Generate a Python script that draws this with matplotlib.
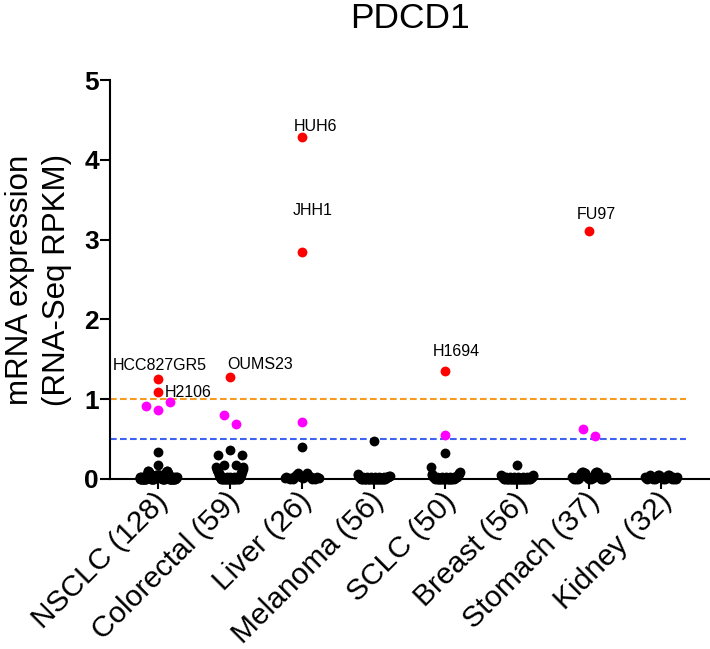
import numpy as np
import matplotlib
matplotlib.use("Agg")
import matplotlib.pyplot as plt
from matplotlib.transforms import ScaledTranslation

plt.rcParams['font.family'] = ['Liberation Sans', 'DejaVu Sans']

# ---------------- data ----------------
title = "PDCD1"
ylabel = "mRNA expression\n(RNA-Seq RPKM)"
categories = ["NSCLC (128)", "Colorectal (59)", "Liver (26)", "Melanoma (56)",
              "SCLC (50)", "Breast (56)", "Stomach (37)", "Kidney (32)"]
yticks = [0, 1, 2, 3, 4, 5]

red_values = [[1.25, 1.09], [1.28], [4.29, 2.85], [], [1.35], [], [3.11], []]
red_labels = [["HCC827GR5", "H2106"], ["OUMS23"], ["HUH6", "JHH1"], [],
              ["H1694"], [], ["FU97"], []]
magenta_values = [[0.92, 0.86, 0.96], [0.80, 0.69], [0.71], [], [0.55], [],
                  [0.63, 0.54], []]
black_upper = [[0.34, 0.17], [0.30, 0.36, 0.30, 0.18, 0.18], [0.40], [0.47],
               [0.32], [0.17], [], []]

# low-expression cell lines, listed left-to-right as they appear in each swarm
black_band = [
    [0.02, 0.01, 0.00, 0.01, 0.00, 0.02, 0.00, 0.01, 0.00, 0.00, 0.01,
     0.00, 0.02, 0.00, 0.01, 0.00, 0.00, 0.01, 0.00, 0.02, 0.00, 0.01,
     0.00, 0.01, 0.03, 0.05, 0.07, 0.09, 0.10, 0.10, 0.09, 0.07, 0.05,
     0.03, 0.02, 0.01, 0.00, 0.01, 0.00, 0.02, 0.01, 0.00, 0.01, 0.00,
     0.02, 0.00, 0.01, 0.00, 0.01, 0.02, 0.03, 0.03, 0.04, 0.04, 0.05,
     0.04, 0.05, 0.04, 0.05, 0.04, 0.05, 0.04, 0.05, 0.04, 0.05, 0.04,
     0.05, 0.04, 0.04, 0.03, 0.03, 0.02, 0.01, 0.00, 0.01, 0.00, 0.02,
     0.00, 0.01, 0.00, 0.02, 0.01, 0.00, 0.01, 0.03, 0.05, 0.07, 0.09,
     0.10, 0.10, 0.09, 0.07, 0.05, 0.03, 0.02, 0.01, 0.00, 0.01, 0.00,
     0.02, 0.00, 0.01, 0.00, 0.00, 0.01, 0.00, 0.02, 0.00, 0.01, 0.00,
     0.00, 0.01, 0.00, 0.02, 0.00, 0.01, 0.00, 0.01, 0.02, 0.01, 0.02],
    [0.15, 0.13, 0.11, 0.09, 0.07, 0.05, 0.03, 0.02, 0.01, 0.00,
     0.01, 0.00, 0.02, 0.00, 0.01, 0.00, 0.00, 0.01, 0.00, 0.02,
     0.00, 0.01, 0.00, 0.01, 0.00, 0.02, 0.00, 0.01, 0.00, 0.00,
     0.01, 0.00, 0.02, 0.00, 0.01, 0.00, 0.01, 0.00, 0.02, 0.01, 0.00, 0.01, 0.00,
     0.02, 0.03, 0.05, 0.07, 0.09, 0.11, 0.13, 0.15],
    [0.01, 0.02, 0.01, 0.00, 0.01, 0.00, 0.02, 0.05, 0.07, 0.04, 0.02,
     0.01, 0.03, 0.05, 0.07, 0.04, 0.02, 0.00, 0.01, 0.00, 0.02, 0.01],
    [0.06, 0.05, 0.04, 0.03, 0.02, 0.01, 0.00, 0.01, 0.00, 0.02,
     0.00, 0.01, 0.00, 0.00, 0.01, 0.00, 0.02, 0.00, 0.01, 0.00,
     0.00, 0.01, 0.00, 0.02, 0.00, 0.01, 0.00, 0.00, 0.01, 0.00,
     0.02, 0.00, 0.01, 0.00, 0.00, 0.01, 0.00, 0.02, 0.00, 0.01,
     0.00, 0.00, 0.01, 0.00, 0.02, 0.00, 0.01, 0.00, 0.01, 0.02,
     0.02, 0.03, 0.03, 0.04, 0.04],
    [0.15, 0.06, 0.05, 0.04, 0.03, 0.02, 0.01, 0.00, 0.01, 0.00,
     0.02, 0.00, 0.01, 0.00, 0.00, 0.01, 0.00, 0.02, 0.00, 0.01,
     0.00, 0.00, 0.01, 0.00, 0.02, 0.00, 0.01, 0.00, 0.00, 0.01,
     0.00, 0.02, 0.00, 0.01, 0.00, 0.01, 0.00, 0.02, 0.01, 0.02,
     0.03, 0.03, 0.04, 0.05, 0.06, 0.07, 0.09],
    [0.05, 0.04, 0.03, 0.02, 0.01, 0.00, 0.01, 0.00, 0.02, 0.00,
     0.01, 0.00, 0.00, 0.01, 0.00, 0.02, 0.00, 0.01, 0.00, 0.00,
     0.01, 0.00, 0.02, 0.00, 0.01, 0.00, 0.00, 0.01, 0.00, 0.02,
     0.00, 0.01, 0.00, 0.00, 0.01, 0.00, 0.02, 0.00, 0.01, 0.00,
     0.00, 0.01, 0.00, 0.02, 0.00, 0.01, 0.00, 0.01, 0.00, 0.02,
     0.01, 0.02, 0.03, 0.04, 0.05],
    [0.02, 0.01, 0.00, 0.01, 0.00, 0.02, 0.00, 0.01, 0.04, 0.07,
     0.09, 0.09, 0.07, 0.04, 0.02, 0.01, 0.00, 0.01, 0.00, 0.02,
     0.01, 0.04, 0.07, 0.09, 0.09, 0.07, 0.04, 0.02, 0.00, 0.01,
     0.00, 0.02, 0.01, 0.02],
    [0.02, 0.01, 0.00, 0.01, 0.03, 0.05, 0.03, 0.01, 0.00, 0.02,
     0.00, 0.01, 0.03, 0.05, 0.05, 0.03, 0.01, 0.00, 0.02, 0.00,
     0.01, 0.03, 0.05, 0.05, 0.03, 0.01, 0.00, 0.02, 0.00, 0.01,
     0.00, 0.02],
]

threshold_high = 1.0
threshold_low = 0.5

# ---------------- layout / style ----------------
W, H, DPI = 710, 649, 100
RED, MAGENTA, BLACK = "#FF0000", "#FF00FF", "#000000"
ORANGE, BLUE = "#F59A23", "#3D63F0"
band_halfwidth_px = [18.5, 13.5, 17, 16, 14.5, 16, 17, 16]
row_spacing_px = 12
row_tol = 0.115
# label offsets (pixels): left edge of text, baseline, relative to the point
label_offsets = {"HCC827GR5": (-45, 9), "H2106": (7, -5), "OUMS23": (-3, 8),
                 "HUH6": (-8, 6), "JHH1": (-9, 37), "H1694": (-13, 15),
                 "FU97": (-12, 11.5)}

fig = plt.figure(figsize=(W / DPI, H / DPI), dpi=DPI)
ax_left, ax_right, ax_bottom, ax_top = 110, 710, 479, 80
ax = fig.add_axes([ax_left / W, 1 - ax_bottom / H,
                   (ax_right - ax_left) / W, (ax_bottom - ax_top) / H])
xlim = (-0.668, 7.682)
ax.set_xlim(*xlim)
ax.set_ylim(0, 5)
px_per_unit = (ax_right - ax_left) / (xlim[1] - xlim[0])


def row_offsets(values):
    """GraphPad-like scatter: points of similar value share a row, spread evenly."""
    vals = np.asarray(values, dtype=float)
    offs = np.zeros(len(vals))
    if len(vals) == 0:
        return offs
    order = np.argsort(vals, kind="stable")
    rows, cur, start = [], [], None
    for idx in order:
        if start is None or vals[idx] - start > row_tol:
            if cur:
                rows.append(cur)
            cur, start = [idx], vals[idx]
        else:
            cur.append(idx)
    rows.append(cur)
    for r in rows:
        r = sorted(r)
        n = len(r)
        for k, idx in enumerate(r):
            offs[idx] = (k - (n - 1) / 2) * row_spacing_px / px_per_unit
    return offs


ms = 50
for i in range(len(categories)):
    band = np.asarray(black_band[i])
    bx = i + np.linspace(-1, 1, len(band)) * band_halfwidth_px[i] / px_per_unit
    ax.scatter(bx, band, s=ms, color=BLACK, linewidths=0, zorder=3, clip_on=False)
    for vals, col in ((black_upper[i], BLACK), (magenta_values[i], MAGENTA),
                      (red_values[i], RED)):
        if len(vals) == 0:
            continue
        xs = i + row_offsets(vals)
        ax.scatter(xs, vals, s=ms, color=col, linewidths=0, zorder=4, clip_on=False)
        if col == RED:
            for x, v, lab in zip(xs, vals, red_labels[i]):
                dx, dy = label_offsets[lab]
                ax.annotate(lab, (x, v), xytext=(dx, dy), textcoords="offset pixels",
                            ha="left", va="baseline", fontsize=11.5, color="black")

line_end = 7.35
ax.plot([xlim[0], line_end], [threshold_high] * 2, color=ORANGE, lw=1.5,
        dashes=(3.2, 1.6), zorder=2, clip_on=False)
ax.plot([xlim[0], line_end], [threshold_low] * 2, color=BLUE, lw=1.5,
        dashes=(3.2, 1.6), zorder=2, clip_on=False)

for s in ("top", "right"):
    ax.spines[s].set_visible(False)
for s in ("left", "bottom"):
    ax.spines[s].set_linewidth(1.5)

ax.set_yticks(yticks)
ax.set_yticklabels([str(t) for t in yticks], fontsize=19, fontweight="bold")
ax.tick_params(axis="y", direction="out", length=7, width=1.5, pad=1)
ax.set_xticks(range(len(categories)))
ax.set_xticklabels(categories, fontsize=21.5, rotation=45, ha="right",
                   va="center", rotation_mode="anchor")
ax.tick_params(axis="x", direction="out", length=7, width=1.5, pad=6)
shift = ScaledTranslation(6 / DPI, 0, fig.dpi_scale_trans)
for lab in ax.get_xticklabels():
    lab.set_transform(lab.get_transform() + shift)
ax.set_ylabel(ylabel, fontsize=22.5, labelpad=9, linespacing=1.3)

fig.text((ax_left + ax_right) / 2 / W, 1 - 28 / H, title, ha="center",
         va="baseline", fontsize=25.5)

fig.savefig("out.png", dpi=DPI)
